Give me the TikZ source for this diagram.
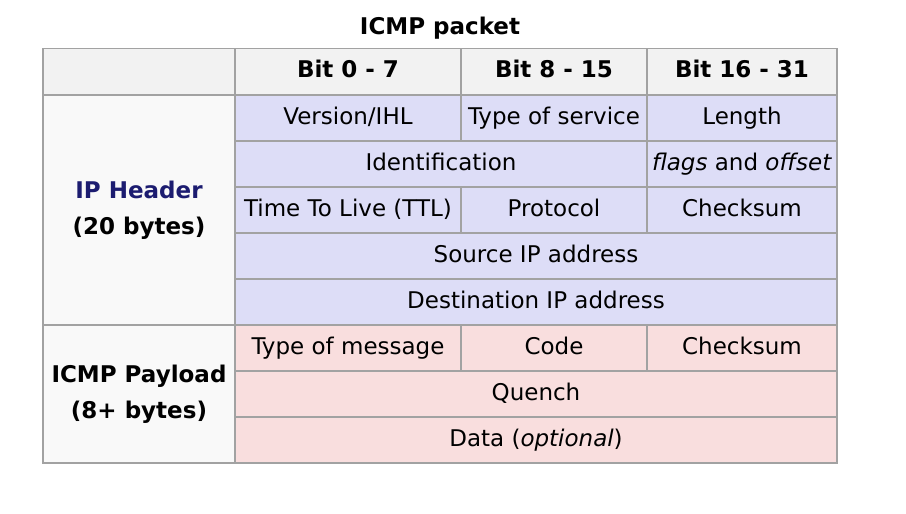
\documentclass[tikz,border=0pt]{standalone}
\usepackage{fontspec}
\setmainfont{DejaVu Sans}
\usepackage{tikz}
\definecolor{hdr}{HTML}{F2F2F2}
\definecolor{side}{HTML}{F9F9F9}
\definecolor{ipc}{HTML}{DDDDF7}
\definecolor{icc}{HTML}{F9DEDE}
\definecolor{grid}{HTML}{A2A2A2}
\definecolor{navy}{HTML}{1C1C70}
\tikzset{cell/.style={draw=grid, line width=1.2pt, inner sep=0pt, text height=16.5pt, text depth=4.5pt, font=\fontsize{23}{27}\selectfont}}
\begin{document}
\begin{tikzpicture}[x=1pt, y=-1pt]
  \useasboundingbox (0,0) rectangle (906,514);
  \node[font=\fontsize{23}{27}\selectfont\bfseries] (T) at (440,28) {ICMP packet};
  % header row
  \node[cell, fill=hdr, minimum width=192pt, minimum height=46pt] (H0) at (139,71.5) {};
  \node[cell, fill=hdr, minimum width=226pt, minimum height=46pt, font=\fontsize{23}{27}\selectfont\bfseries] (H1) at (348,71.5) {Bit 0 - 7};
  \node[cell, fill=hdr, minimum width=186pt, minimum height=46pt, font=\fontsize{23}{27}\selectfont\bfseries] (H2) at (554,71.5) {Bit 8 - 15};
  \node[cell, fill=hdr, minimum width=190pt, minimum height=46pt, font=\fontsize{23}{27}\selectfont\bfseries] (H3) at (742,71.5) {Bit 16 - 31};
  % side labels
  \node[cell, fill=side, minimum width=192pt, minimum height=230pt, align=center, text height=, text depth=, font=\fontsize{23}{36}\selectfont\bfseries] (IP) at (139,210) {\textcolor{navy}{IP Header}\\(20 bytes)};
  \node[cell, fill=side, minimum width=192pt, minimum height=138pt, align=center, text height=, text depth=, font=\fontsize{23}{36}\selectfont\bfseries] (PL) at (139,394) {ICMP Payload\\(8+ bytes)};
  % IP header
  \node[cell, fill=ipc, minimum width=226pt, minimum height=46pt] (A1) at (348,118) {Version/IHL};
  \node[cell, fill=ipc, minimum width=186pt, minimum height=46pt] (A2) at (554,118) {Type of service};
  \node[cell, fill=ipc, minimum width=190pt, minimum height=46pt] (A3) at (742,118) {Length};
  \node[cell, fill=ipc, minimum width=412pt, minimum height=46pt] (B1) at (441,164) {Identification};
  \node[cell, fill=ipc, minimum width=190pt, minimum height=46pt] (B2) at (742,164) {\textit{flags} and \textit{offset}};
  \node[cell, fill=ipc, minimum width=226pt, minimum height=46pt] (C1) at (348,210) {Time To Live (TTL)};
  \node[cell, fill=ipc, minimum width=186pt, minimum height=46pt] (C2) at (554,210) {Protocol};
  \node[cell, fill=ipc, minimum width=190pt, minimum height=46pt] (C3) at (742,210) {Checksum};
  \node[cell, fill=ipc, minimum width=602pt, minimum height=46pt] (D1) at (536,256) {Source IP address};
  \node[cell, fill=ipc, minimum width=602pt, minimum height=46pt] (E1) at (536,302) {Destination IP address};
  % ICMP payload
  \node[cell, fill=icc, minimum width=226pt, minimum height=46pt] (F1) at (348,348) {Type of message};
  \node[cell, fill=icc, minimum width=186pt, minimum height=46pt] (F2) at (554,348) {Code};
  \node[cell, fill=icc, minimum width=190pt, minimum height=46pt] (F3) at (742,348) {Checksum};
  \node[cell, fill=icc, minimum width=602pt, minimum height=46pt] (G1) at (536,394) {Quench};
  \node[cell, fill=icc, minimum width=602pt, minimum height=46pt] (K1) at (536,440) {Data (\textit{optional})};
\end{tikzpicture}
\end{document}
